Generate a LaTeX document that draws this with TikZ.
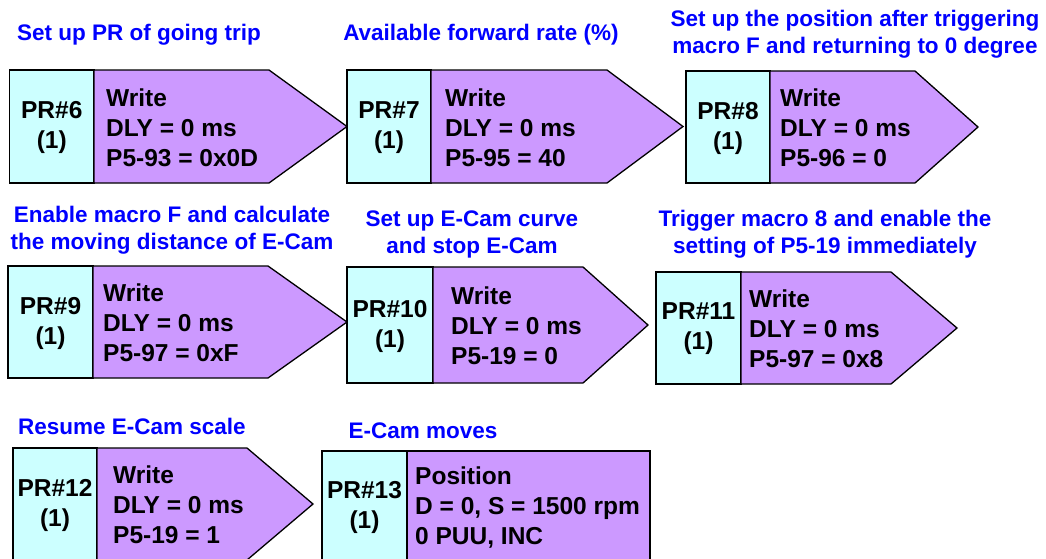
\documentclass[tikz,border=0pt]{standalone}
\usepackage{fontspec}
\setmainfont{Liberation Sans}
\usetikzlibrary{positioning}
\definecolor{prcyan}{HTML}{CCFFFF}
\definecolor{prviolet}{HTML}{CC99FF}
\definecolor{noteblue}{HTML}{0000FF}
\tikzset{
  prline/.style={draw=black,line width=1.3pt,line join=miter},
  prnum/.style={font=\bfseries\fontsize{24.5}{30}\selectfont,align=center,inner sep=0pt},
  prbody/.style={font=\bfseries\fontsize{24.5}{30}\selectfont,align=left,inner sep=0pt,anchor=west},
  prnote/.style={text=noteblue,font=\bfseries\fontsize{22.5}{27}\selectfont,align=center,inner sep=0pt}
}

\begin{document}
\begin{tikzpicture}[x=1pt,y=-1pt]
  \useasboundingbox (0,0) rectangle (1046,558);
  \clip (0,0) rectangle (1046,558);
  \foreach \n/\xl/\xd/\xs/\xt/\yt/\yb/\pad/\body in {
      6/9.5/94/269/347/70/183/12/{Write\\DLY = 0 ms\\P5-93 = 0x0D},
      7/347/431/607/683/70/183/14/{Write\\DLY = 0 ms\\P5-95 = 40},
      8/686/770/915/978/71/183/10/{Write\\DLY = 0 ms\\P5-96 = 0},
      9/8/93/268/347/266/378/10/{Write\\DLY = 0 ms\\P5-97 = 0xF},
      10/347/433/583/648/267/383/18/{Write\\DLY = 0 ms\\P5-19 = 0},
      11/656/741/891/957/272/384/8/{Write\\DLY = 0 ms\\P5-97 = 0x8},
      12/13/97/247/313/448/560/16/{Write\\DLY = 0 ms\\P5-19 = 1},
      13/322/407/650/650/451/562/8/{Position\\D = 0, S = 1500 rpm\\0 PUU, INC}} {
    \draw[prline,fill=prcyan] (\xl,\yt) rectangle (\xd,\yb);
    \draw[prline,fill=prviolet] (\xd,\yt) -- (\xs,\yt) -- (\xt,{(\yt+\yb)/2})
      -- (\xs,\yb) -- (\xd,\yb) -- cycle;
    \node[prnum] (pr\n) at ({(\xl+\xd)/2},{(\yt+\yb)/2+1}) {PR\#\n\\(1)};
    \node[prbody] (body\n) at ({\xd+\pad},{(\yt+\yb)/2+1}) {\body};
  }
  \node[prnote,anchor=base] (note6) at (139,40) {Set up PR of going trip};
  \node[prnote,anchor=base] (note7) at (481,40) {Available forward rate (\%)};
  \node[prnote] (note8) at (855,34) {Set up the position after triggering\\macro F and returning to 0 degree};
  \node[prnote] (note9) at (172,230) {Enable macro F and calculate\\the moving distance of E-Cam};
  \node[prnote] (note10) at (472,234) {Set up E-Cam curve\\and stop E-Cam};
  \node[prnote] (note11) at (825,234) {Trigger macro 8 and enable the\\setting of P5-19 immediately};
  \node[prnote,anchor=base] (note12) at (132,434) {Resume E-Cam scale};
  \node[prnote,anchor=base] (note13) at (423,438) {E-Cam moves};
\end{tikzpicture}
\end{document}
